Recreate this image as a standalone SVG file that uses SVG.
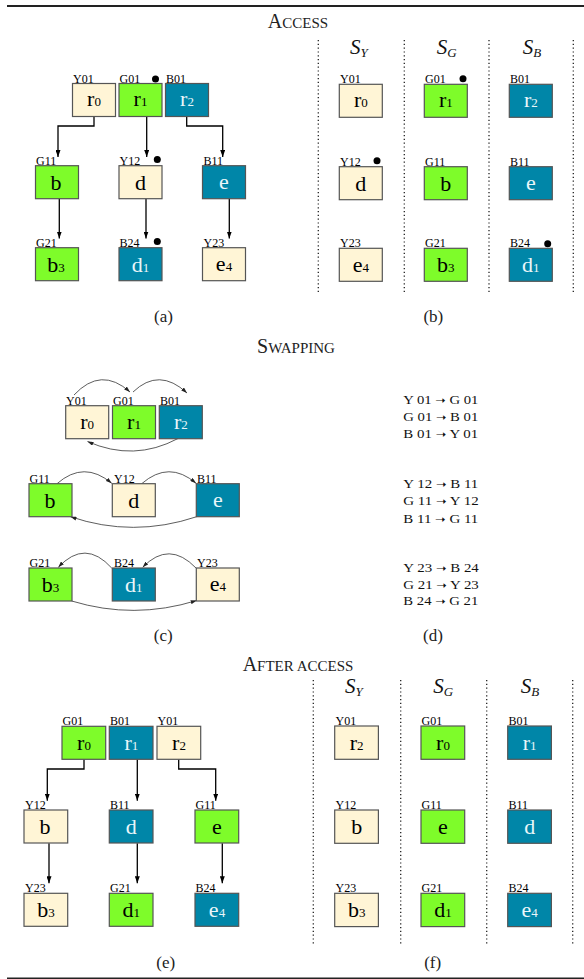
<svg xmlns="http://www.w3.org/2000/svg" width="584" height="979" viewBox="0 0 584 979">
<defs>
<style>
rect.n{stroke:#555;stroke-width:1.2}
.y{fill:#FFF5D6}
.g{fill:#7EFC2A}
.b{fill:#0086A8}
.lb{font-family:"Liberation Serif",serif;font-size:12px;fill:#000}
.v{font-family:"Liberation Serif",serif;font-size:22px;fill:#000;text-anchor:middle}
.vw{font-family:"Liberation Serif",serif;font-size:22px;fill:#EAF6FA;text-anchor:middle}
.s{font-size:13px}
.ttl{font-family:"Liberation Serif",serif;font-size:20px;fill:#222;text-anchor:middle}
.sc{font-size:15px}
.cap{font-family:"Liberation Serif",serif;font-size:17px;fill:#222;text-anchor:middle}
.hd{font-family:"Liberation Serif",serif;font-style:italic;font-size:21px;fill:#111}
.hs{font-size:13px}
.mp{font-family:"Liberation Serif",serif;font-size:13px;fill:#111}
.ar{font-family:"DejaVu Sans",sans-serif;font-size:11px}
.dl{stroke:#222;stroke-width:1.3;stroke-dasharray:1.2 2.6;fill:none}
.c1{stroke:#000;stroke-width:1.3;fill:none;marker-end:url(#ah)}
.c2{stroke:#333;stroke-width:0.8;fill:none;marker-end:url(#ah2)}
.dot{fill:#000}
</style>
<marker id="ah" viewBox="0 0 10 10" refX="10" refY="5" markerWidth="7" markerHeight="5" markerUnits="userSpaceOnUse" orient="auto" preserveAspectRatio="none"><path d="M0,0 L10,5 L0,10 z" fill="#000"/></marker>
<marker id="ah2" viewBox="0 0 10 10" refX="10" refY="5" markerWidth="6" markerHeight="4" markerUnits="userSpaceOnUse" orient="auto" preserveAspectRatio="none"><path d="M0,0 L10,5 L0,10 z" fill="#222"/></marker>
</defs>
<rect width="584" height="979" fill="#fff"/>
<line x1="7" y1="6" x2="584" y2="6" stroke="#222" stroke-width="2"/>
<line x1="7" y1="978.3" x2="584" y2="978.3" stroke="#222" stroke-width="1.6"/>

<text class="ttl" x="298" y="28">A<tspan class="sc">CCESS</tspan></text>
<text class="ttl" x="296" y="352.7">S<tspan class="sc">WAPPING</tspan></text>
<text class="ttl" x="298" y="670.7">A<tspan class="sc">FTER ACCESS</tspan></text>

<!-- (a) -->
<g id="connectors-a">
<path class="c1" d="M94 117 V126 H58 V157"/>
<path class="c1" d="M146.7 117 V157"/>
<path class="c1" d="M186.7 117 V126 H222.7 V157"/>
<path class="c1" d="M59.3 198.5 V238.5"/>
<path class="c1" d="M146 198.5 V238.5"/>
<path class="c1" d="M229.3 198.5 V238.5"/>
</g>
<g id="a-Y01"><rect class="n y" x="72.5" y="83.5" width="43" height="33"/><text class="lb" x="73" y="82.5">Y01</text><text class="v" x="94" y="106">r<tspan class="s">0</tspan></text></g>
<g id="a-G01"><rect class="n g" x="119" y="83.5" width="43" height="33"/><text class="lb" x="119.5" y="82.5">G01</text><circle class="dot" cx="155.5" cy="79" r="3.5"/><text class="v" x="140.5" y="106">r<tspan class="s">1</tspan></text></g>
<g id="a-B01"><rect class="n b" x="165.5" y="83.5" width="43" height="33"/><text class="lb" x="166" y="82.5">B01</text><text class="vw" x="187" y="106">r<tspan class="s">2</tspan></text></g>
<g id="a-G11"><rect class="n g" x="35.5" y="165.7" width="43" height="33"/><text class="lb" x="36" y="164.7">G11</text><text class="v" x="56" y="189.5">b</text></g>
<g id="a-Y12"><rect class="n y" x="119" y="165.7" width="43" height="33"/><text class="lb" x="119.5" y="164.7">Y12</text><circle class="dot" cx="157.3" cy="159.5" r="3.5"/><text class="v" x="140.5" y="189.5">d</text></g>
<g id="a-B11"><rect class="n b" x="202.5" y="165.7" width="43" height="33"/><text class="lb" x="203.5" y="164.7">B11</text><text class="vw" x="224" y="189">e</text></g>
<g id="a-G21"><rect class="n g" x="35.5" y="247.7" width="43" height="33"/><text class="lb" x="36" y="246.7">G21</text><text class="v" x="56" y="271.5">b<tspan class="s">3</tspan></text></g>
<g id="a-B24"><rect class="n b" x="119" y="247.7" width="43" height="33"/><text class="lb" x="119.5" y="246.7">B24</text><circle class="dot" cx="157.3" cy="241.5" r="3.5"/><text class="vw" x="140.5" y="271.5">d<tspan class="s">1</tspan></text></g>
<g id="a-Y23"><rect class="n y" x="202.5" y="247.7" width="43" height="33"/><text class="lb" x="203.5" y="246.7">Y23</text><text class="v" x="224" y="271">e<tspan class="s">4</tspan></text></g>
<text class="cap" x="163.5" y="321.5">(a)</text>

<!-- (b) -->
<g id="dividers-b">
<line class="dl" x1="318.3" y1="40" x2="318.3" y2="292"/>
<line class="dl" x1="404.3" y1="40" x2="404.3" y2="292"/>
<line class="dl" x1="489" y1="40" x2="489" y2="292"/>
<line class="dl" x1="573.3" y1="40" x2="573.3" y2="292"/>
</g>
<text class="hd" x="350" y="53.5">S<tspan class="hs" dy="3.3">Y</tspan></text>
<text class="hd" x="436.7" y="53.5">S<tspan class="hs" dy="3">G</tspan></text>
<text class="hd" x="522.7" y="53.5">S<tspan class="hs" dy="3">B</tspan></text>
<g id="b-Y01"><rect class="n y" x="339.3" y="84.3" width="43" height="33"/><text class="lb" x="340" y="83.3">Y01</text><text class="v" x="360.8" y="107">r<tspan class="s">0</tspan></text></g>
<g id="b-Y12"><rect class="n y" x="339.3" y="166.7" width="43" height="33"/><text class="lb" x="340" y="165.7">Y12</text><circle class="dot" cx="377" cy="160.7" r="3.5"/><text class="v" x="360.8" y="190.5">d</text></g>
<g id="b-Y23"><rect class="n y" x="339.3" y="248.3" width="43" height="33"/><text class="lb" x="340" y="247.3">Y23</text><text class="v" x="360.8" y="271.5">e<tspan class="s">4</tspan></text></g>
<g id="b-G01"><rect class="n g" x="424.3" y="84.3" width="43" height="33"/><text class="lb" x="425" y="83.3">G01</text><circle class="dot" cx="463" cy="78.7" r="3.5"/><text class="v" x="445.8" y="107">r<tspan class="s">1</tspan></text></g>
<g id="b-G11"><rect class="n g" x="424.3" y="166.7" width="43" height="33"/><text class="lb" x="425" y="165.7">G11</text><text class="v" x="445.8" y="190.5">b</text></g>
<g id="b-G21"><rect class="n g" x="424.3" y="248.3" width="43" height="33"/><text class="lb" x="425" y="247.3">G21</text><text class="v" x="445.8" y="272">b<tspan class="s">3</tspan></text></g>
<g id="b-B01"><rect class="n b" x="509.3" y="84.3" width="43" height="33"/><text class="lb" x="510" y="83.3">B01</text><text class="vw" x="530.8" y="107">r<tspan class="s">2</tspan></text></g>
<g id="b-B11"><rect class="n b" x="509.3" y="166.7" width="43" height="33"/><text class="lb" x="510" y="165.7">B11</text><text class="vw" x="530.8" y="190">e</text></g>
<g id="b-B24"><rect class="n b" x="509.3" y="248.3" width="43" height="33"/><text class="lb" x="510" y="247.3">B24</text><circle class="dot" cx="547.7" cy="243.7" r="3.5"/><text class="vw" x="530.8" y="272">d<tspan class="s">1</tspan></text></g>
<text class="cap" x="433.3" y="322">(b)</text>

<!-- (c) -->
<g id="connectors-c">
<path class="c2" d="M74 395 Q101 366 130 392"/>
<path class="c2" d="M133 392 Q159 367 187 393"/>
<path class="c2" d="M178 438.5 Q134 462 87.5 441.5"/>
<path class="c2" d="M57 483.7 Q84 460 111.7 483.3"/>
<path class="c2" d="M141.7 483.7 Q169 460 196 483.3"/>
<path class="c2" d="M196.7 516.7 Q133 538 70.5 516.7"/>
<path class="c2" d="M111.7 568 Q85 538.6 58.3 567.3"/>
<path class="c2" d="M196 568 Q169 540 142.7 567.3"/>
<path class="c2" d="M71.7 601 Q134 620 196.7 600.5"/>
</g>
<g id="c-Y01"><rect class="n y" x="65.7" y="405.7" width="43" height="33"/><text class="lb" x="66" y="404.5">Y01</text><text class="v" x="87.2" y="429">r<tspan class="s">0</tspan></text></g>
<g id="c-G01"><rect class="n g" x="112.5" y="405.7" width="43" height="33"/><text class="lb" x="113" y="404.5">G01</text><text class="v" x="134" y="429">r<tspan class="s">1</tspan></text></g>
<g id="c-B01"><rect class="n b" x="159.3" y="405.7" width="43" height="33"/><text class="lb" x="160" y="404.5">B01</text><text class="vw" x="180.8" y="429">r<tspan class="s">2</tspan></text></g>
<g id="c-G11"><rect class="n g" x="29" y="483.7" width="43" height="33"/><text class="lb" x="29.5" y="482.5">G11</text><text class="v" x="50" y="507.5">b</text></g>
<g id="c-Y12"><rect class="n y" x="112.3" y="483.7" width="43" height="33"/><text class="lb" x="114" y="482.5">Y12</text><text class="v" x="133.8" y="507.5">d</text></g>
<g id="c-B11"><rect class="n b" x="196.3" y="483.7" width="43" height="33"/><text class="lb" x="197" y="482.5">B11</text><text class="vw" x="217.8" y="507">e</text></g>
<g id="c-G21"><rect class="n g" x="29" y="568" width="43" height="33"/><text class="lb" x="29.5" y="566.7">G21</text><text class="v" x="50.5" y="591.5">b<tspan class="s">3</tspan></text></g>
<g id="c-B24"><rect class="n b" x="112.3" y="568" width="43" height="33"/><text class="lb" x="114" y="566.7">B24</text><text class="vw" x="133.8" y="591.5">d<tspan class="s">1</tspan></text></g>
<g id="c-Y23"><rect class="n y" x="196.3" y="568" width="43" height="33"/><text class="lb" x="197" y="566.7">Y23</text><text class="v" x="217.8" y="591">e<tspan class="s">4</tspan></text></g>
<text class="cap" x="163.3" y="640.5">(c)</text>

<!-- (d) -->
<g id="mapping-d">
<text class="mp" x="403.3" y="404" textLength="75" lengthAdjust="spacingAndGlyphs">Y 01 <tspan class="ar">➝</tspan> G 01</text>
<text class="mp" x="403.3" y="421" textLength="75" lengthAdjust="spacingAndGlyphs">G 01 <tspan class="ar">➝</tspan> B 01</text>
<text class="mp" x="403.3" y="437.5" textLength="75" lengthAdjust="spacingAndGlyphs">B 01 <tspan class="ar">➝</tspan> Y 01</text>
<text class="mp" x="403.3" y="488" textLength="75" lengthAdjust="spacingAndGlyphs">Y 12 <tspan class="ar">➝</tspan> B 11</text>
<text class="mp" x="403.3" y="505" textLength="75.5" lengthAdjust="spacingAndGlyphs">G 11 <tspan class="ar">➝</tspan> Y 12</text>
<text class="mp" x="403.3" y="522.5" textLength="75" lengthAdjust="spacingAndGlyphs">B 11 <tspan class="ar">➝</tspan> G 11</text>
<text class="mp" x="403.3" y="572" textLength="75.5" lengthAdjust="spacingAndGlyphs">Y 23 <tspan class="ar">➝</tspan> B 24</text>
<text class="mp" x="403.3" y="588.5" textLength="75.5" lengthAdjust="spacingAndGlyphs">G 21 <tspan class="ar">➝</tspan> Y 23</text>
<text class="mp" x="403.3" y="605" textLength="75" lengthAdjust="spacingAndGlyphs">B 24 <tspan class="ar">➝</tspan> G 21</text>
</g>
<text class="cap" x="433" y="640.5">(d)</text>

<!-- (e) -->
<g id="connectors-e">
<path class="c1" d="M84 759.5 V769 H47.3 V800.7"/>
<path class="c1" d="M137.3 759.5 V800.7"/>
<path class="c1" d="M178.7 759.5 V769 H215.7 V800.7"/>
<path class="c1" d="M49 843.3 V883.3"/>
<path class="c1" d="M137.3 843.3 V883.3"/>
<path class="c1" d="M222.3 843.3 V883.3"/>
</g>
<g id="e-G01"><rect class="n g" x="62" y="726.3" width="43.7" height="33"/><text class="lb" x="62.5" y="725">G01</text><text class="v" x="84" y="749.5">r<tspan class="s">0</tspan></text></g>
<g id="e-B01"><rect class="n b" x="109.3" y="726.3" width="43.7" height="33"/><text class="lb" x="110" y="725">B01</text><text class="vw" x="131.3" y="749.5">r<tspan class="s">1</tspan></text></g>
<g id="e-Y01"><rect class="n y" x="157" y="726.3" width="43.7" height="33"/><text class="lb" x="157.5" y="725">Y01</text><text class="v" x="179" y="749.5">r<tspan class="s">2</tspan></text></g>
<g id="e-Y12"><rect class="n y" x="24" y="810" width="43.7" height="33"/><text class="lb" x="25" y="808.7">Y12</text><text class="v" x="45" y="834">b</text></g>
<g id="e-B11"><rect class="n b" x="109.3" y="810" width="43.7" height="33"/><text class="lb" x="110" y="808.7">B11</text><text class="vw" x="131.3" y="834">d</text></g>
<g id="e-G11"><rect class="n g" x="195" y="810" width="43.7" height="33"/><text class="lb" x="195.5" y="808.7">G11</text><text class="v" x="217" y="833.5">e</text></g>
<g id="e-Y23"><rect class="n y" x="24" y="893.3" width="43.7" height="33"/><text class="lb" x="25" y="892">Y23</text><text class="v" x="46" y="917">b<tspan class="s">3</tspan></text></g>
<g id="e-G21"><rect class="n g" x="109.3" y="893.3" width="43.7" height="33"/><text class="lb" x="110" y="892">G21</text><text class="v" x="131.3" y="917">d<tspan class="s">1</tspan></text></g>
<g id="e-B24"><rect class="n b" x="195" y="893.3" width="43.7" height="33"/><text class="lb" x="195.5" y="892">B24</text><text class="vw" x="217" y="916.5">e<tspan class="s">4</tspan></text></g>
<text class="cap" x="165.7" y="968">(e)</text>

<!-- (f) -->
<g id="dividers-f">
<line class="dl" x1="313.3" y1="680" x2="313.3" y2="943.5"/>
<line class="dl" x1="400.7" y1="680" x2="400.7" y2="943.5"/>
<line class="dl" x1="486.7" y1="680" x2="486.7" y2="943.5"/>
<line class="dl" x1="572.7" y1="680" x2="572.7" y2="943.5"/>
</g>
<text class="hd" x="345" y="692.7">S<tspan class="hs" dy="3.5">Y</tspan></text>
<text class="hd" x="433.3" y="692.7">S<tspan class="hs" dy="3.5">G</tspan></text>
<text class="hd" x="520.7" y="692.7">S<tspan class="hs" dy="3.5">B</tspan></text>
<g id="f-Y01"><rect class="n y" x="334.7" y="726" width="43.7" height="33.3"/><text class="lb" x="335.5" y="725">Y01</text><text class="v" x="356.7" y="749.5">r<tspan class="s">2</tspan></text></g>
<g id="f-Y12"><rect class="n y" x="334.7" y="810" width="43.7" height="33.3"/><text class="lb" x="335.5" y="808.7">Y12</text><text class="v" x="356.7" y="834">b</text></g>
<g id="f-Y23"><rect class="n y" x="334.7" y="893.3" width="43.7" height="33.3"/><text class="lb" x="335.5" y="892">Y23</text><text class="v" x="356.7" y="917">b<tspan class="s">3</tspan></text></g>
<g id="f-G01"><rect class="n g" x="421" y="726" width="43.7" height="33.3"/><text class="lb" x="421.5" y="725">G01</text><text class="v" x="443" y="749.5">r<tspan class="s">0</tspan></text></g>
<g id="f-G11"><rect class="n g" x="421" y="810" width="43.7" height="33.3"/><text class="lb" x="421.5" y="808.7">G11</text><text class="v" x="443" y="833.5">e</text></g>
<g id="f-G21"><rect class="n g" x="421" y="893.3" width="43.7" height="33.3"/><text class="lb" x="421.5" y="892">G21</text><text class="v" x="443" y="917">d<tspan class="s">1</tspan></text></g>
<g id="f-B01"><rect class="n b" x="507.7" y="726" width="43.7" height="33.3"/><text class="lb" x="508.5" y="725">B01</text><text class="vw" x="529.7" y="749.5">r<tspan class="s">1</tspan></text></g>
<g id="f-B11"><rect class="n b" x="507.7" y="810" width="43.7" height="33.3"/><text class="lb" x="508.5" y="808.7">B11</text><text class="vw" x="529.7" y="834">d</text></g>
<g id="f-B24"><rect class="n b" x="507.7" y="893.3" width="43.7" height="33.3"/><text class="lb" x="508.5" y="892">B24</text><text class="vw" x="529.7" y="916.5">e<tspan class="s">4</tspan></text></g>
<text class="cap" x="432.7" y="968">(f)</text>
</svg>
